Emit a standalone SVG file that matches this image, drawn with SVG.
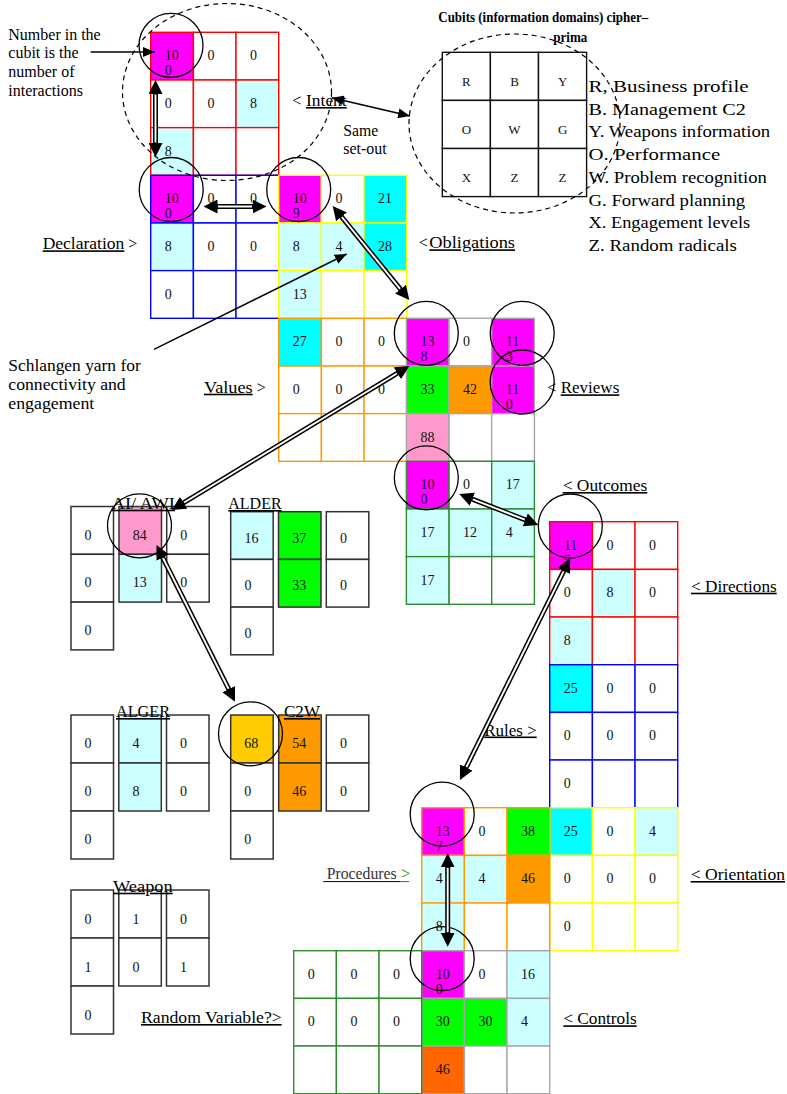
<svg xmlns="http://www.w3.org/2000/svg" width="787" height="1094" viewBox="0 0 787 1094" font-family="Liberation Serif, serif">
<style>
rect{fill:#fff;stroke-width:1.4}
.r{stroke:#FF0000}.bl{stroke:#0000FF}.ye{stroke:#FFFF00}.or{stroke:#FF9900}.gy{stroke:#A6A6A6}.gr{stroke:#2E8B2E}.k{stroke:#333;stroke-width:1.5}.ck{stroke:#111;stroke-width:1.4}
.fm{fill:#FF00FF}.fl{fill:#CCFFFF}.fc{fill:#00FFFF}.fg{fill:#00FF00}.fo{fill:#FF9900}.fp{fill:#FF99CC}.fr{fill:#FF6600}.fy{fill:#FFCC00}
text{font-family:'Liberation Serif',serif;fill:#111}
.n{font-family:'Liberation Serif',serif;font-size:14px}
.lb{font-family:'Liberation Serif',serif;font-size:16px;fill:#000}
.lg{font-family:'Liberation Serif',serif;font-size:16px;fill:#000}
.u{text-decoration:underline}
.ci{font-family:'Liberation Serif',serif;font-size:13px;text-anchor:middle}
.ttl{font-family:'Liberation Serif',serif;font-size:15px;font-weight:bold;fill:#000}
.hl{fill:none;stroke:#000;stroke-width:1.3}
.dsh{fill:none;stroke:#000;stroke-width:1.2;stroke-dasharray:5 4}
.sl{stroke:#000;stroke-width:1.5;fill:none}
.db{stroke:#000;stroke-width:5;fill:none}
.in{stroke:#fff;stroke-width:1.9;fill:none}
.ul{stroke:#000;stroke-width:1}
</style>
<defs>
<marker id="hd" viewBox="0 0 14 14" refX="7" refY="7" markerWidth="14" markerHeight="14" markerUnits="userSpaceOnUse" orient="auto-start-reverse"><path d="M0,0 L14,7 L0,14 z" fill="#000"/></marker>
<marker id="sh" viewBox="0 0 12 10" refX="12" refY="5" markerWidth="12" markerHeight="10" markerUnits="userSpaceOnUse" orient="auto-start-reverse"><path d="M0,0 L12,5 L0,10 z" fill="#000"/></marker>
</defs>

<g id="note-number">
<text class="lb" x="8.3" y="40">Number in the</text>
<text class="lb" x="8.3" y="58.3">cubit is the</text>
<text class="lb" x="8.3" y="76.7">number of</text>
<text class="lb" x="8.3" y="95.5">interactions</text>
</g>

<g id="note-schlangen">
<text class="lb" x="8.3" y="371" textLength="132.4" lengthAdjust="spacingAndGlyphs">Schlangen yarn for</text>
<text class="lb" x="8.3" y="390" textLength="117.4" lengthAdjust="spacingAndGlyphs">connectivity and</text>
<text class="lb" x="8.3" y="409" textLength="86" lengthAdjust="spacingAndGlyphs">engagement</text>
</g>

<g id="note-same">
<text class="lb" x="343.3" y="136" textLength="35" lengthAdjust="spacingAndGlyphs">Same</text>
<text class="lb" x="343.3" y="154.3" textLength="43.3" lengthAdjust="spacingAndGlyphs">set-out</text>
</g>

<g id="intent">
<rect class="r fm" x="150.7" y="32.3" width="42.7" height="47.7"/>
<rect class="r" x="193.4" y="32.3" width="42.7" height="47.7"/>
<rect class="r" x="236" y="32.3" width="42.7" height="47.7"/>
<rect class="r" x="150.7" y="80" width="42.7" height="47.7"/>
<rect class="r" x="193.4" y="80" width="42.7" height="47.7"/>
<rect class="r fl" x="236" y="80" width="42.7" height="47.7"/>
<rect class="r fl" x="150.7" y="127.6" width="42.7" height="47.7"/>
<rect class="r" x="193.4" y="127.6" width="42.7" height="47.7"/>
<rect class="r" x="236" y="127.6" width="42.7" height="47.7"/>
<text class="n" x="164.7" y="60.3">10</text><text class="n" x="164.7" y="75.3">0</text>
<text class="n" x="207.4" y="60.3">0</text><text class="n" x="250" y="60.3">0</text>
<text class="n" x="164.7" y="108">0</text><text class="n" x="207.4" y="108">0</text><text class="n" x="250" y="108">8</text>
<text class="n" x="164.7" y="155.6">8</text>
<text class="lb" x="292.3" y="106">&lt;</text>
<text class="lb u" x="306" y="106" textLength="40.7" lengthAdjust="spacingAndGlyphs">Intent</text>
</g>

<g id="declaration">
<rect class="bl fm" x="150.7" y="175.3" width="42.7" height="47.7"/>
<rect class="bl" x="193.4" y="175.3" width="42.7" height="47.7"/>
<rect class="bl" x="236" y="175.3" width="42.7" height="47.7"/>
<rect class="bl fl" x="150.7" y="223" width="42.7" height="47.7"/>
<rect class="bl" x="193.4" y="223" width="42.7" height="47.7"/>
<rect class="bl" x="236" y="223" width="42.7" height="47.7"/>
<rect class="bl" x="150.7" y="270.6" width="42.7" height="47.7"/>
<rect class="bl" x="193.4" y="270.6" width="42.7" height="47.7"/>
<rect class="bl" x="236" y="270.6" width="42.7" height="47.7"/>
<text class="n" x="164.7" y="203.3">10</text><text class="n" x="164.7" y="218.3">0</text>
<text class="n" x="207.4" y="203.3">0</text><text class="n" x="250" y="203.3">0</text>
<text class="n" x="164.7" y="251">8</text><text class="n" x="207.4" y="251">0</text><text class="n" x="250" y="251">0</text>
<text class="n" x="164.7" y="298.6">0</text>
<text class="lb u" x="42.7" y="249.3" textLength="81.6" lengthAdjust="spacingAndGlyphs">Declaration</text>
<text class="lb" x="128.3" y="249.3">&gt;</text>
</g>

<g id="obligations">
<rect class="ye fm" x="278.7" y="175.3" width="42.7" height="47.7"/>
<rect class="ye" x="321.4" y="175.3" width="42.7" height="47.7"/>
<rect class="ye fc" x="364" y="175.3" width="42.7" height="47.7"/>
<rect class="ye fl" x="278.7" y="223" width="42.7" height="47.7"/>
<rect class="ye fl" x="321.4" y="223" width="42.7" height="47.7"/>
<rect class="ye fc" x="364" y="223" width="42.7" height="47.7"/>
<rect class="ye fl" x="278.7" y="270.6" width="42.7" height="47.7"/>
<rect class="ye" x="321.4" y="270.6" width="42.7" height="47.7"/>
<rect class="ye" x="364" y="270.6" width="42.7" height="47.7"/>
<text class="n" x="292.7" y="203.3">10</text><text class="n" x="292.7" y="218.3">9</text>
<text class="n" x="335.4" y="203.3">0</text><text class="n" x="378" y="203.3">21</text>
<text class="n" x="292.7" y="251">8</text><text class="n" x="335.4" y="251">4</text><text class="n" x="378" y="251">28</text>
<text class="n" x="292.7" y="298.6">13</text>
<text class="lb" x="418.8" y="248.3">&lt;</text>
<text class="lb u" x="429.3" y="248.3" textLength="85.7" lengthAdjust="spacingAndGlyphs">Obligations</text>
</g>

<g id="values">
<rect class="or fc" x="278.7" y="318.3" width="42.7" height="47.7"/>
<rect class="or" x="321.4" y="318.3" width="42.7" height="47.7"/>
<rect class="or" x="364" y="318.3" width="42.7" height="47.7"/>
<rect class="or" x="278.7" y="366" width="42.7" height="47.7"/>
<rect class="or" x="321.4" y="366" width="42.7" height="47.7"/>
<rect class="or" x="364" y="366" width="42.7" height="47.7"/>
<rect class="or" x="278.7" y="413.6" width="42.7" height="47.7"/>
<rect class="or" x="321.4" y="413.6" width="42.7" height="47.7"/>
<rect class="or" x="364" y="413.6" width="42.7" height="47.7"/>
<text class="n" x="292.7" y="346.3">27</text><text class="n" x="335.4" y="346.3">0</text><text class="n" x="378" y="346.3">0</text>
<text class="n" x="292.7" y="394">0</text><text class="n" x="335.4" y="394">0</text><text class="n" x="378" y="394">0</text>
<text class="lb u" x="204" y="392.7" textLength="48.7" lengthAdjust="spacingAndGlyphs">Values</text>
<text class="lb" x="256.7" y="392.7">&gt;</text>
</g>

<g id="reviews">
<rect class="gy fm" x="406.4" y="318.3" width="42.7" height="47.7"/>
<rect class="gy" x="449.1" y="318.3" width="42.7" height="47.7"/>
<rect class="gy fm" x="491.7" y="318.3" width="42.7" height="47.7"/>
<rect class="gy fg" x="406.4" y="366" width="42.7" height="47.7"/>
<rect class="gy fo" x="449.1" y="366" width="42.7" height="47.7"/>
<rect class="gy fm" x="491.7" y="366" width="42.7" height="47.7"/>
<rect class="gy fp" x="406.4" y="413.6" width="42.7" height="47.7"/>
<rect class="gy" x="449.1" y="413.6" width="42.7" height="47.7"/>
<rect class="gy" x="491.7" y="413.6" width="42.7" height="47.7"/>
<text class="n" x="420.4" y="346.3">13</text><text class="n" x="420.4" y="361.3">8</text>
<text class="n" x="463.1" y="346.3">0</text>
<text class="n" x="505.7" y="346.3">11</text><text class="n" x="505.7" y="361.3">3</text>
<text class="n" x="420.4" y="394">33</text><text class="n" x="463.1" y="394">42</text>
<text class="n" x="505.7" y="394">11</text><text class="n" x="505.7" y="409">0</text>
<text class="n" x="420.4" y="441.6">88</text>
<text class="lb" x="547.3" y="393.3">&lt;</text>
<text class="lb u" x="560.7" y="393.3" textLength="58.6" lengthAdjust="spacingAndGlyphs">Reviews</text>
</g>

<g id="outcomes">
<rect class="gr fm" x="406.4" y="461.3" width="42.7" height="47.7"/>
<rect class="gr" x="449.1" y="461.3" width="42.7" height="47.7"/>
<rect class="gr fl" x="491.7" y="461.3" width="42.7" height="47.7"/>
<rect class="gr fl" x="406.4" y="509" width="42.7" height="47.7"/>
<rect class="gr fl" x="449.1" y="509" width="42.7" height="47.7"/>
<rect class="gr fl" x="491.7" y="509" width="42.7" height="47.7"/>
<rect class="gr fl" x="406.4" y="556.6" width="42.7" height="47.7"/>
<rect class="gr" x="449.1" y="556.6" width="42.7" height="47.7"/>
<rect class="gr" x="491.7" y="556.6" width="42.7" height="47.7"/>
<text class="n" x="420.4" y="489.3">10</text><text class="n" x="420.4" y="504.3">0</text>
<text class="n" x="463.1" y="489.3">0</text><text class="n" x="505.7" y="489.3">17</text>
<text class="n" x="420.4" y="537">17</text><text class="n" x="463.1" y="537">12</text><text class="n" x="505.7" y="537">4</text>
<text class="n" x="420.4" y="584.6">17</text>
<text class="lb u" x="562.7" y="491" textLength="84.6" lengthAdjust="spacingAndGlyphs">&lt; Outcomes</text>
</g>

<g id="directions">
<rect class="r fm" x="549.7" y="521.7" width="42.7" height="47.7"/>
<rect class="r" x="592.4" y="521.7" width="42.7" height="47.7"/>
<rect class="r" x="635" y="521.7" width="42.7" height="47.7"/>
<rect class="r" x="549.7" y="569.4" width="42.7" height="47.7"/>
<rect class="r fl" x="592.4" y="569.4" width="42.7" height="47.7"/>
<rect class="r" x="635" y="569.4" width="42.7" height="47.7"/>
<rect class="r fl" x="549.7" y="617" width="42.7" height="47.7"/>
<rect class="r" x="592.4" y="617" width="42.7" height="47.7"/>
<rect class="r" x="635" y="617" width="42.7" height="47.7"/>
<text class="n" x="563.7" y="549.7">11</text><text class="n" x="563.7" y="564.7">5</text>
<text class="n" x="606.4" y="549.7">0</text><text class="n" x="649" y="549.7">0</text>
<text class="n" x="563.7" y="597.4">0</text><text class="n" x="606.4" y="597.4">8</text><text class="n" x="649" y="597.4">0</text>
<text class="n" x="563.7" y="645">8</text>
<text class="lb u" x="691" y="591.7" textLength="85.7" lengthAdjust="spacingAndGlyphs">&lt; Directions</text>
</g>

<g id="rules">
<rect class="bl fc" x="549.7" y="664.7" width="42.7" height="47.7"/>
<rect class="bl" x="592.4" y="664.7" width="42.7" height="47.7"/>
<rect class="bl" x="635" y="664.7" width="42.7" height="47.7"/>
<rect class="bl" x="549.7" y="712.4" width="42.7" height="47.7"/>
<rect class="bl" x="592.4" y="712.4" width="42.7" height="47.7"/>
<rect class="bl" x="635" y="712.4" width="42.7" height="47.7"/>
<rect class="bl" x="549.7" y="760" width="42.7" height="47.7"/>
<rect class="bl" x="592.4" y="760" width="42.7" height="47.7"/>
<rect class="bl" x="635" y="760" width="42.7" height="47.7"/>
<text class="n" x="563.7" y="692.7">25</text><text class="n" x="606.4" y="692.7">0</text><text class="n" x="649" y="692.7">0</text>
<text class="n" x="563.7" y="740.4">0</text><text class="n" x="606.4" y="740.4">0</text><text class="n" x="649" y="740.4">0</text>
<text class="n" x="563.7" y="788">0</text>
<text class="lb u" x="484.3" y="735.5" textLength="52.4" lengthAdjust="spacingAndGlyphs">Rules &gt;</text>
</g>

<g id="orientation">
<rect class="ye fc" x="549.7" y="807.7" width="42.7" height="47.7"/>
<rect class="ye" x="592.4" y="807.7" width="42.7" height="47.7"/>
<rect class="ye fl" x="635" y="807.7" width="42.7" height="47.7"/>
<rect class="ye" x="549.7" y="855.4" width="42.7" height="47.7"/>
<rect class="ye" x="592.4" y="855.4" width="42.7" height="47.7"/>
<rect class="ye" x="635" y="855.4" width="42.7" height="47.7"/>
<rect class="ye" x="549.7" y="903" width="42.7" height="47.7"/>
<rect class="ye" x="592.4" y="903" width="42.7" height="47.7"/>
<rect class="ye" x="635" y="903" width="42.7" height="47.7"/>
<text class="n" x="563.7" y="835.7">25</text><text class="n" x="606.4" y="835.7">0</text><text class="n" x="649" y="835.7">4</text>
<text class="n" x="563.7" y="883.4">0</text><text class="n" x="606.4" y="883.4">0</text><text class="n" x="649" y="883.4">0</text>
<text class="n" x="563.7" y="931">0</text>
<text class="lb u" x="690.7" y="880" textLength="94.3" lengthAdjust="spacingAndGlyphs">&lt; Orientation</text>
</g>

<g id="procedures">
<rect class="or fm" x="421.7" y="807.7" width="42.7" height="47.7"/>
<rect class="or" x="464.4" y="807.7" width="42.7" height="47.7"/>
<rect class="or fg" x="507" y="807.7" width="42.7" height="47.7"/>
<rect class="or fl" x="421.7" y="855.4" width="42.7" height="47.7"/>
<rect class="or fl" x="464.4" y="855.4" width="42.7" height="47.7"/>
<rect class="or fo" x="507" y="855.4" width="42.7" height="47.7"/>
<rect class="or fl" x="421.7" y="903" width="42.7" height="47.7"/>
<rect class="or" x="464.4" y="903" width="42.7" height="47.7"/>
<rect class="or" x="507" y="903" width="42.7" height="47.7"/>
<text class="n" x="435.7" y="835.7">13</text><text class="n" x="435.7" y="850.7">7</text>
<text class="n" x="478.4" y="835.7">0</text><text class="n" x="521" y="835.7">38</text>
<text class="n" x="435.7" y="883.4">4</text><text class="n" x="478.4" y="883.4">4</text><text class="n" x="521" y="883.4">46</text>
<text class="n" x="435.7" y="931">8</text>
<text class="lb" x="326.7" y="879.3" textLength="70" lengthAdjust="spacingAndGlyphs" style="fill:#333">Procedures</text>
<text class="lb" x="401.2" y="879.3" style="fill:#009900">&gt;</text>
<line class="ul" x1="323.3" y1="881.6" x2="400.5" y2="881.6"/>
<line class="ul" x1="400.5" y1="881.6" x2="409.3" y2="881.6" style="stroke:#009900"/>
</g>

<g id="controls">
<rect class="gy fm" x="421.7" y="950.7" width="42.7" height="47.7"/>
<rect class="gy" x="464.4" y="950.7" width="42.7" height="47.7"/>
<rect class="gy fl" x="507" y="950.7" width="42.7" height="47.7"/>
<rect class="gy fg" x="421.7" y="998.4" width="42.7" height="47.7"/>
<rect class="gy fg" x="464.4" y="998.4" width="42.7" height="47.7"/>
<rect class="gy fl" x="507" y="998.4" width="42.7" height="47.7"/>
<rect class="gy fr" x="421.7" y="1046" width="42.7" height="47.7"/>
<rect class="gy" x="464.4" y="1046" width="42.7" height="47.7"/>
<rect class="gy" x="507" y="1046" width="42.7" height="47.7"/>
<text class="n" x="435.7" y="978.7">10</text><text class="n" x="435.7" y="993.7">0</text>
<text class="n" x="478.4" y="978.7">0</text><text class="n" x="521" y="978.7">16</text>
<text class="n" x="435.7" y="1026.4">30</text><text class="n" x="478.4" y="1026.4">30</text><text class="n" x="521" y="1026.4">4</text>
<text class="n" x="435.7" y="1074">46</text>
<text class="lb u" x="563.3" y="1024.3" textLength="73.4" lengthAdjust="spacingAndGlyphs">&lt; Controls</text>
</g>

<g id="random-variable">
<rect class="gr" x="293.7" y="950.7" width="42.7" height="47.7"/>
<rect class="gr" x="336.4" y="950.7" width="42.7" height="47.7"/>
<rect class="gr" x="379" y="950.7" width="42.7" height="47.7"/>
<rect class="gr" x="293.7" y="998.4" width="42.7" height="47.7"/>
<rect class="gr" x="336.4" y="998.4" width="42.7" height="47.7"/>
<rect class="gr" x="379" y="998.4" width="42.7" height="47.7"/>
<rect class="gr" x="293.7" y="1046" width="42.7" height="47.7"/>
<rect class="gr" x="336.4" y="1046" width="42.7" height="47.7"/>
<rect class="gr" x="379" y="1046" width="42.7" height="47.7"/>
<text class="n" x="307.7" y="978.7">0</text><text class="n" x="350.4" y="978.7">0</text><text class="n" x="393" y="978.7">0</text>
<text class="n" x="307.7" y="1026.4">0</text><text class="n" x="350.4" y="1026.4">0</text><text class="n" x="393" y="1026.4">0</text>
<text class="lb u" x="141" y="1023" textLength="140.7" lengthAdjust="spacingAndGlyphs">Random Variable?&gt;</text>
</g>

<g id="cipher">
<rect class="ck" x="442.3" y="52.3" width="48.1" height="48.1"/>
<rect class="ck" x="490.4" y="52.3" width="48.1" height="48.1"/>
<rect class="ck" x="538.5" y="52.3" width="48.1" height="48.1"/>
<rect class="ck" x="442.3" y="100.4" width="48.1" height="48.1"/>
<rect class="ck" x="490.4" y="100.4" width="48.1" height="48.1"/>
<rect class="ck" x="538.5" y="100.4" width="48.1" height="48.1"/>
<rect class="ck" x="442.3" y="148.5" width="48.1" height="48.1"/>
<rect class="ck" x="490.4" y="148.5" width="48.1" height="48.1"/>
<rect class="ck" x="538.5" y="148.5" width="48.1" height="48.1"/>
<text class="ci" x="466.4" y="86">R</text><text class="ci" x="514.5" y="86">B</text><text class="ci" x="562.6" y="86">Y</text>
<text class="ci" x="466.4" y="134">O</text><text class="ci" x="514.5" y="134">W</text><text class="ci" x="562.6" y="134">G</text>
<text class="ci" x="466.4" y="182.3">X</text><text class="ci" x="514.5" y="182.3">Z</text><text class="ci" x="562.6" y="182.3">Z</text>
<text class="ttl" x="438.3" y="22.3" textLength="210" lengthAdjust="spacingAndGlyphs">Cubits (information domains) cipher–</text>
<text class="ttl" x="553.3" y="42" textLength="34" lengthAdjust="spacingAndGlyphs">prima</text>
<text class="lg" x="588.5" y="92" textLength="160" lengthAdjust="spacingAndGlyphs">R, Business profile</text>
<text class="lg" x="588.5" y="114.7" textLength="157.4" lengthAdjust="spacingAndGlyphs">B. Management C2</text>
<text class="lg" x="588.5" y="137.4" textLength="181.7" lengthAdjust="spacingAndGlyphs">Y. Weapons information</text>
<text class="lg" x="588.5" y="160.1" textLength="131.7" lengthAdjust="spacingAndGlyphs">O. Performance</text>
<text class="lg" x="588.5" y="182.8" textLength="178.4" lengthAdjust="spacingAndGlyphs">W. Problem recognition</text>
<text class="lg" x="588.5" y="205.5" textLength="156.7" lengthAdjust="spacingAndGlyphs">G. Forward planning</text>
<text class="lg" x="588.5" y="228.2" textLength="161.7" lengthAdjust="spacingAndGlyphs">X. Engagement levels</text>
<text class="lg" x="588.5" y="250.9" textLength="148.4" lengthAdjust="spacingAndGlyphs">Z. Random radicals</text>
</g>

<g id="ai-awi">
<rect class="k" x="71" y="506.5" width="42.5" height="47.8"/>
<rect class="k" x="71" y="554.3" width="42.5" height="47.8"/>
<rect class="k" x="71" y="602.1" width="42.5" height="47.8"/>
<rect class="k fp" x="119" y="506.5" width="42.5" height="47.8"/>
<rect class="k fl" x="119" y="554.3" width="42.5" height="47.8"/>
<rect class="k" x="166.7" y="506.5" width="42.5" height="47.8"/>
<rect class="k" x="166.7" y="554.3" width="42.5" height="47.8"/>
<text class="n" x="84.5" y="539.5">0</text><text class="n" x="84.5" y="587.3">0</text><text class="n" x="84.5" y="635.1">0</text>
<text class="n" x="132.8" y="539.5">84</text><text class="n" x="132.8" y="587.3">13</text>
<text class="n" x="180.2" y="539.5">0</text><text class="n" x="180.2" y="587.3">0</text>
<text class="lb u" x="111.7" y="508.7" textLength="63.3" lengthAdjust="spacingAndGlyphs">AI/ AWI</text>
</g>

<g id="alder">
<rect class="k fl" x="230.7" y="511.7" width="42.5" height="47.7"/>
<rect class="k" x="230.7" y="559.4" width="42.5" height="47.7"/>
<rect class="k" x="230.7" y="607.1" width="42.5" height="47.7"/>
<rect class="k fg" x="278.5" y="511.7" width="42.5" height="47.7"/>
<rect class="k fg" x="278.5" y="559.4" width="42.5" height="47.7"/>
<rect class="k" x="326.3" y="511.7" width="42.5" height="47.7"/>
<rect class="k" x="326.3" y="559.4" width="42.5" height="47.7"/>
<text class="n" x="244.5" y="542.7">16</text><text class="n" x="244.5" y="590.4">0</text><text class="n" x="244.5" y="638.1">0</text>
<text class="n" x="292.3" y="542.7">37</text><text class="n" x="292.3" y="590.4">33</text>
<text class="n" x="340" y="542.7">0</text><text class="n" x="340" y="590.4">0</text>
<text class="lb u" x="228.3" y="509" textLength="53.3" lengthAdjust="spacingAndGlyphs">ALDER</text>
</g>

<g id="alger">
<rect class="k" x="71" y="715" width="42.5" height="48"/>
<rect class="k" x="71" y="763" width="42.5" height="48"/>
<rect class="k" x="71" y="811" width="42.5" height="48"/>
<rect class="k fl" x="118.8" y="715" width="42.5" height="48"/>
<rect class="k fl" x="118.8" y="763" width="42.5" height="48"/>
<rect class="k" x="166.5" y="715" width="42.5" height="48"/>
<rect class="k" x="166.5" y="763" width="42.5" height="48"/>
<text class="n" x="84.5" y="748.3">0</text><text class="n" x="84.5" y="796.3">0</text><text class="n" x="84.5" y="844.3">0</text>
<text class="n" x="132.5" y="748.3">4</text><text class="n" x="132.5" y="796.3">8</text>
<text class="n" x="180" y="748.3">0</text><text class="n" x="180" y="796.3">0</text>
<text class="lb u" x="116" y="717" textLength="54" lengthAdjust="spacingAndGlyphs">ALGER</text>
</g>

<g id="c2w">
<rect class="k fy" x="230.7" y="715" width="42.5" height="48"/>
<rect class="k" x="230.7" y="763" width="42.5" height="48"/>
<rect class="k" x="230.7" y="811" width="42.5" height="48"/>
<rect class="k fo" x="278.7" y="715" width="42.5" height="48"/>
<rect class="k fo" x="278.7" y="763" width="42.5" height="48"/>
<rect class="k" x="326.3" y="715" width="42.5" height="48"/>
<rect class="k" x="326.3" y="763" width="42.5" height="48"/>
<text class="n" x="244.2" y="748.3">68</text><text class="n" x="244.2" y="796.3">0</text><text class="n" x="244.2" y="844.3">0</text>
<text class="n" x="292.2" y="748.3">54</text><text class="n" x="292.2" y="796.3">46</text>
<text class="n" x="340" y="748.3">0</text><text class="n" x="340" y="796.3">0</text>
<text class="lb u" x="284" y="717" textLength="36" lengthAdjust="spacingAndGlyphs">C2W</text>
</g>

<g id="weapon">
<rect class="k" x="71" y="890" width="42.5" height="48"/>
<rect class="k" x="71" y="938" width="42.5" height="48"/>
<rect class="k" x="71" y="986" width="42.5" height="48"/>
<rect class="k" x="118.8" y="890" width="42.5" height="48"/>
<rect class="k" x="118.8" y="938" width="42.5" height="48"/>
<rect class="k" x="166.5" y="890" width="42.5" height="48"/>
<rect class="k" x="166.5" y="938" width="42.5" height="48"/>
<text class="n" x="84.5" y="924">0</text><text class="n" x="84.5" y="972">1</text><text class="n" x="84.5" y="1020">0</text>
<text class="n" x="132.5" y="924">1</text><text class="n" x="132.5" y="972">0</text>
<text class="n" x="180" y="924">0</text><text class="n" x="180" y="972">1</text>
<text class="lb u" x="113" y="891.7" textLength="59.7" lengthAdjust="spacingAndGlyphs">Weapon</text>
</g>

<g id="highlights">
<ellipse class="dsh" cx="227" cy="92" rx="104.5" ry="88.5"/>
<ellipse class="dsh" cx="514.5" cy="123.5" rx="105.5" ry="89.5"/>
<circle class="hl" cx="171" cy="45.3" r="32"/>
<circle class="hl" cx="171.2" cy="189.5" r="32"/>
<circle class="hl" cx="298.7" cy="189.5" r="32"/>
<circle class="hl" cx="426.3" cy="333.3" r="32"/>
<circle class="hl" cx="522.2" cy="333.3" r="32"/>
<circle class="hl" cx="522.2" cy="382" r="32"/>
<circle class="hl" cx="426.3" cy="477.8" r="32"/>
<circle class="hl" cx="570.3" cy="526" r="32"/>
<circle class="hl" cx="442.2" cy="814.2" r="32"/>
<circle class="hl" cx="442.2" cy="958.7" r="32"/>
<circle class="hl" cx="139.5" cy="525.8" r="32"/>
<circle class="hl" cx="250.5" cy="733.8" r="32"/>
</g>

<g id="connectors">
<line class="sl" x1="90.7" y1="52" x2="155" y2="52" marker-end="url(#sh)"/>
<line class="sl" x1="331.7" y1="97.7" x2="410" y2="116" marker-start="url(#sh)" marker-end="url(#sh)"/>
<line class="sl" x1="154" y1="349.3" x2="346.7" y2="254" marker-end="url(#sh)"/>

<line class="db" x1="155.5" y1="87" x2="155.5" y2="150" marker-start="url(#hd)" marker-end="url(#hd)"/>
<line class="in" x1="155.5" y1="94.5" x2="155.5" y2="142.5"/>

<line class="db" x1="210.5" y1="206.5" x2="259.5" y2="206.5" marker-start="url(#hd)" marker-end="url(#hd)"/>
<line class="in" x1="218" y1="206.5" x2="252" y2="206.5"/>

<line class="db" x1="337.1" y1="211.4" x2="404.9" y2="294.6" marker-start="url(#hd)" marker-end="url(#hd)"/>
<line class="in" x1="341.9" y1="217.2" x2="400.1" y2="288.8"/>

<line class="db" x1="403.3" y1="369.6" x2="177.7" y2="506.4" marker-start="url(#hd)" marker-end="url(#hd)"/>
<line class="in" x1="396.9" y1="373.5" x2="184.1" y2="502.5"/>

<line class="db" x1="465.8" y1="496.6" x2="531.8" y2="522.4" marker-start="url(#hd)" marker-end="url(#hd)"/>
<line class="in" x1="472.8" y1="499.3" x2="524.8" y2="519.7"/>

<line class="db" x1="566.9" y1="564.6" x2="463.1" y2="773.7" marker-start="url(#hd)" marker-end="url(#hd)"/>
<line class="in" x1="563.6" y1="571.3" x2="466.4" y2="767"/>

<line class="db" x1="159.6" y1="551.3" x2="231.9" y2="695.4" marker-start="url(#hd)" marker-end="url(#hd)"/>
<line class="in" x1="163" y1="558" x2="228.5" y2="688.7"/>

<line class="db" x1="447.7" y1="860.3" x2="447.7" y2="939.7" marker-start="url(#hd)" marker-end="url(#hd)"/>
<line class="in" x1="447.7" y1="867.8" x2="447.7" y2="932.2"/>
</g>
</svg>
